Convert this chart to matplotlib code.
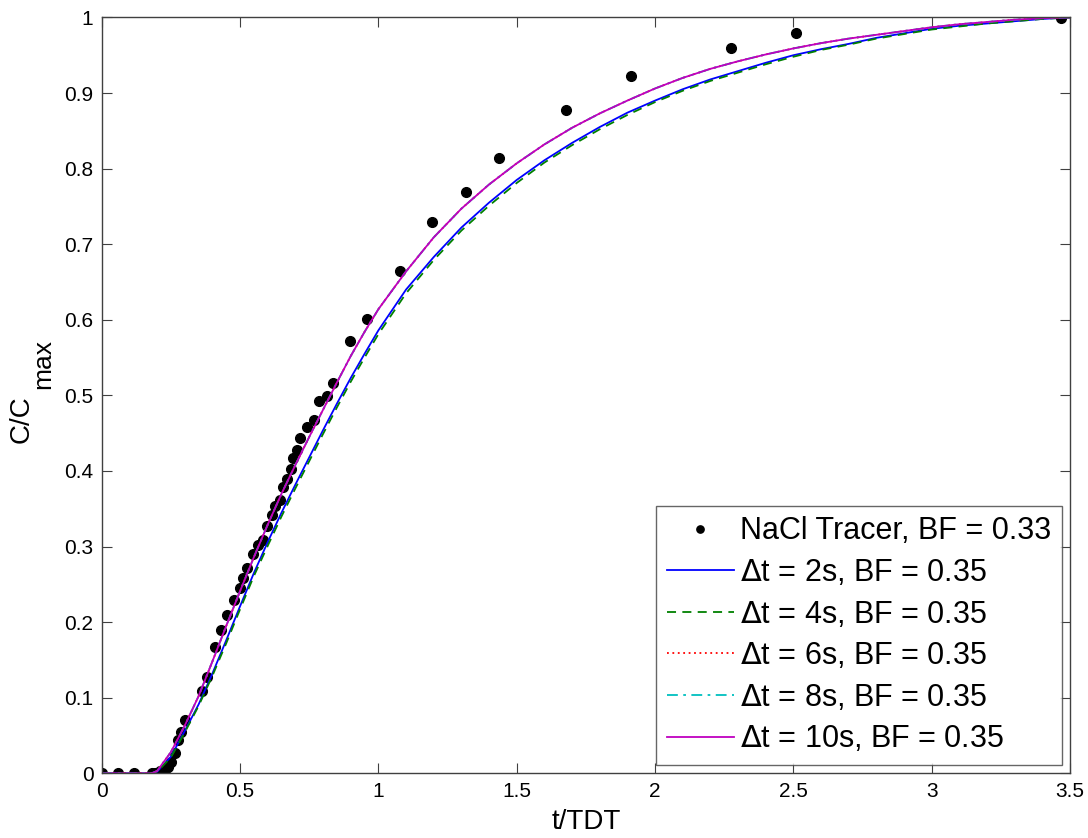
import matplotlib
matplotlib.use("Agg")
import matplotlib.pyplot as plt

plt.rcParams['font.family'] = ['Liberation Sans', 'DejaVu Sans']

# NaCl tracer measurements (t/TDT, C/Cmax)
tracer_x = [0.0, 0.06, 0.118, 0.181, 0.193, 0.211, 0.229, 0.241, 0.25, 0.265,
            0.277, 0.286, 0.301, 0.361, 0.379, 0.409, 0.431, 0.452, 0.478, 0.5,
            0.512, 0.524, 0.548, 0.566, 0.584, 0.596, 0.614, 0.626, 0.644, 0.656,
            0.671, 0.683, 0.692, 0.705, 0.717, 0.743, 0.767, 0.786, 0.815, 0.837,
            0.897, 0.958, 1.078, 1.195, 1.315, 1.436, 1.677, 1.912, 2.273, 2.509,
            3.466]
tracer_y = [0.0, 0.0, 0.0, 0.0, 0.0, 0.003, 0.004, 0.008, 0.015, 0.027,
            0.044, 0.055, 0.071, 0.109, 0.128, 0.167, 0.19, 0.209, 0.229, 0.245,
            0.258, 0.271, 0.29, 0.302, 0.309, 0.327, 0.342, 0.353, 0.362, 0.379,
            0.39, 0.403, 0.417, 0.428, 0.443, 0.458, 0.467, 0.492, 0.499, 0.516,
            0.572, 0.601, 0.665, 0.729, 0.769, 0.814, 0.877, 0.923, 0.959, 0.98,
            0.999]

# model curves sampled in t/TDT
t_model = [0.0, 0.18, 0.2, 0.25, 0.3, 0.35, 0.4, 0.45, 0.5, 0.55, 0.6, 0.65,
           0.7, 0.75, 0.8, 0.85, 0.9, 0.95, 1.0, 1.1, 1.2, 1.3, 1.4, 1.5, 1.6,
           1.7, 1.8, 1.9, 2.0, 2.1, 2.2, 2.3, 2.4, 2.5, 2.6, 2.7, 2.8, 2.9, 3.0,
           3.1, 3.2, 3.3, 3.4, 3.5]

# dt = 2s and 4s
y_2s = [0.0, 0.0, 0.002, 0.022, 0.056, 0.091, 0.132, 0.176, 0.221, 0.265, 0.306, 0.345,
        0.382, 0.418, 0.454, 0.489, 0.523, 0.555, 0.586, 0.64, 0.683, 0.722, 0.755,
        0.785, 0.811, 0.834, 0.855, 0.874, 0.89, 0.905, 0.918, 0.929, 0.94, 0.95,
        0.958, 0.965, 0.973, 0.979, 0.985, 0.989, 0.992, 0.995, 0.998, 1.0]
y_4s = [0.0, 0.0, 0.002, 0.021, 0.054, 0.089, 0.129, 0.172, 0.217, 0.261, 0.301, 0.34,
        0.377, 0.413, 0.449, 0.484, 0.518, 0.55, 0.581, 0.635, 0.679, 0.718, 0.751,
        0.781, 0.808, 0.831, 0.852, 0.871, 0.888, 0.903, 0.916, 0.927, 0.938, 0.948,
        0.957, 0.964, 0.972, 0.978, 0.984, 0.988, 0.992, 0.995, 0.998, 1.0]

# dt = 6s, 8s, 10s (lie on top of each other)
y_10s = [0.0, 0.0, 0.003, 0.028, 0.063, 0.102, 0.148, 0.195, 0.241, 0.286, 0.329, 0.37,
         0.408, 0.445, 0.481, 0.517, 0.552, 0.584, 0.614, 0.664, 0.709, 0.747, 0.779,
         0.807, 0.832, 0.854, 0.873, 0.89, 0.906, 0.92, 0.932, 0.942, 0.951, 0.959,
         0.966, 0.972, 0.977, 0.982, 0.987, 0.991, 0.994, 0.997, 0.999, 1.0]
y_6s = list(y_10s)
y_8s = list(y_10s)

x_ticks = [0, 0.5, 1, 1.5, 2, 2.5, 3, 3.5]
y_ticks = [0, 0.1, 0.2, 0.3, 0.4, 0.5, 0.6, 0.7, 0.8, 0.9, 1]

fig = plt.figure(figsize=(10.88, 8.38), dpi=100)
ax = fig.add_axes([0.0935, 0.0772, 0.89, 0.902])

lw = 1.3
ax.plot(tracer_x, tracer_y, linestyle='none', marker='o', markersize=7,
        color='black', label='NaCl Tracer, BF = 0.33', zorder=1)
ax.plot(t_model, y_2s, color='#0000ff', lw=lw, label=r'$\Delta$t = 2s, BF = 0.35')
ax.plot(t_model, y_4s, color='#008000', lw=lw, linestyle=(0, (5, 3.5)),
        label=r'$\Delta$t = 4s, BF = 0.35')
ax.plot(t_model, y_6s, color='#ff0000', lw=lw, linestyle=(0, (1, 2)),
        label=r'$\Delta$t = 6s, BF = 0.35')
ax.plot(t_model, y_8s, color='#00bfbf', lw=lw, linestyle=(0, (6, 3, 1.5, 3)),
        label=r'$\Delta$t = 8s, BF = 0.35')
ax.plot(t_model, y_10s, color='#bf00bf', lw=lw, label=r'$\Delta$t = 10s, BF = 0.35')

ax.set_xlim(0, 3.5)
ax.set_ylim(0, 1)
ax.set_xticks(x_ticks)
ax.set_xticklabels(['%g' % v for v in x_ticks])
ax.set_yticks(y_ticks)
ax.set_yticklabels(['%g' % v for v in y_ticks])
ax.tick_params(direction='in', top=True, right=True, length=7, width=0.8,
               labelsize=15, colors='#404040', labelcolor='black', pad=6)
for s in ax.spines.values():
    s.set_color('#404040')
    s.set_linewidth(1.0)

ax.set_xlabel('t/TDT', fontsize=20, labelpad=6)
# y label drawn in two pieces so the subscript keeps a MATLAB-like size
fig.text(22 / 1088, 1 - 443 / 838, 'C/C', rotation=90, fontsize=20,
         ha='center', va='bottom')
fig.text(43 / 1088, 1 - 389 / 838, 'max', rotation=90, fontsize=19,
         ha='center', va='bottom')

leg = ax.legend(loc='lower right', fontsize=22, frameon=True, fancybox=False,
                edgecolor='#404040', handlelength=2.2, handletextpad=0.2,
                borderpad=0.35, labelspacing=0.38, borderaxespad=0.27,
                markerscale=0.75)
leg.get_frame().set_linewidth(1.0)

fig.savefig('out.png', dpi=100)
